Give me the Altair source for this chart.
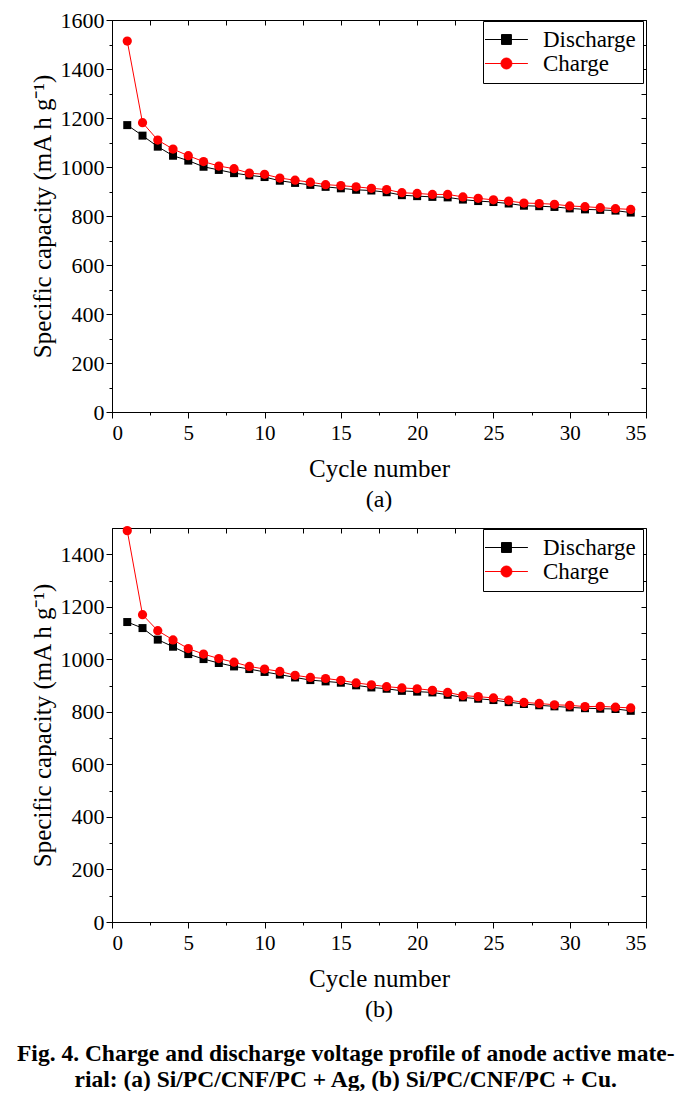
import altair as alt
import pandas as pd

cycles = list(range(1, 35))
series_names = ["Discharge", "Charge"]
series_colors = ["#000000", "#ff0000"]

a_discharge = [1171, 1128, 1083, 1046, 1026, 1001, 988, 975, 966, 959, 944, 935, 927, 919, 913, 907, 904,
               897, 885, 881, 878, 876, 867, 861, 857, 851, 842, 840, 837, 831, 827, 825, 822, 814]
a_charge = [1514, 1181, 1110, 1073, 1046, 1022, 1004, 993, 975, 970, 955, 946, 938, 928, 924, 919, 913,
            908, 895, 892, 888, 888, 878, 872, 866, 861, 853, 851, 848, 841, 838, 834, 830, 827]
b_discharge = [1142, 1119, 1075, 1048, 1020, 1001, 986, 973, 963, 952, 942, 931, 921, 916, 911, 901, 893,
               888, 880, 877, 874, 865, 855, 850, 845, 837, 830, 825, 821, 817, 814, 812, 811, 804]
b_charge = [1490, 1170, 1109, 1074, 1041, 1020, 1003, 989, 973, 963, 954, 939, 931, 927, 920, 910, 903,
            896, 891, 888, 882, 874, 862, 858, 853, 845, 836, 832, 827, 825, 820, 821, 818, 815]

x_tick_values = [0, 2.5, 5, 7.5, 10, 12.5, 15, 17.5, 20, 22.5, 25, 27.5, 30, 32.5, 35]
a_y_tick_values = [0, 100, 200, 300, 400, 500, 600, 700, 800, 900, 1000, 1100, 1200, 1300, 1400, 1500, 1600]
b_y_tick_values = [0, 100, 200, 300, 400, 500, 600, 700, 800, 900, 1000, 1100, 1200, 1300, 1400]

x_title = "Cycle number"
y_title = "Specific capacity (mA h g\u207b\u00b9)"
caption = ["Fig. 4. Charge and discharge voltage profile of anode active mate-",
           "rial: (a) Si/PC/CNF/PC + Ag, (b) Si/PC/CNF/PC + Cu."]

FONT = "Liberation Serif"
legend_paths = [
    "M-1.5,0H2.4M0,-0.45H0.9V0.45H0Z",
    "M-1.5,0H2.4M-0.05,0A0.5,0.5,0,1,0,0.95,0A0.5,0.5,0,1,0,-0.05,0Z",
]
point_shapes = ["square", "circle"]
point_sizes = [64, 85]
PLOT_W = 534


def panel(dis, chg, ymax, yticks, label, h):
    df = pd.DataFrame({
        "cycle": cycles + cycles,
        "capacity": dis + chg,
        "series": [series_names[0]] * len(cycles) + [series_names[1]] * len(cycles),
    })
    xs = alt.Scale(domain=[0, 35], nice=False, zero=False)
    ys = alt.Scale(domain=[0, ymax], nice=False, zero=False)
    x_main = alt.X("cycle:Q", scale=xs, title=x_title, axis=alt.Axis(
        values=x_tick_values, grid=False, labelOverlap=False, format="d",
        labelExpr="datum.value % 5 === 0 ? datum.label : ''",
        tickSize={"condition": {"test": "datum.value % 5 === 0", "value": 6}, "value": 3},
        labelPadding=4, titlePadding=13, labelFontSize=21, titleFontSize=25,
    ))
    y_main = alt.Y("capacity:Q", scale=ys, title=y_title, axis=alt.Axis(
        values=yticks, grid=False, labelOverlap=False, format="d",
        labelExpr="datum.value % 200 === 0 ? datum.label : ''",
        tickSize={"condition": {"test": "datum.value % 200 === 0", "value": 6}, "value": 3},
        labelPadding=2, titlePadding=5, labelFontSize=22, titleFontSize=25,
    ))
    base = alt.Chart(df).encode(x=x_main, y=y_main)
    layers = []
    for name, color, shp, sz in zip(series_names, series_colors, point_shapes, point_sizes):
        sub = base.transform_filter(alt.datum.series == name)
        layers.append(sub.mark_line(color=color, strokeWidth=1))
        layers.append(sub.mark_point(shape=shp, filled=True, size=sz, color=color, opacity=1))
    data_layer = alt.layer(*layers)

    leg = alt.Legend(title=None, orient="none", legendX=PLOT_W - 163, legendY=1, padding=7,
                     strokeColor="black", fillColor="white",
                     labelFont=FONT, labelFontSize=23, labelColor="black",
                     symbolSize=484, symbolStrokeWidth=1, labelOffset=30, rowPadding=0)
    x_mirror = alt.X("cycle:Q", scale=xs, title=None, axis=alt.Axis(
        orient="top", values=x_tick_values, grid=False, labels=False, domain=False,
        offset=-5, tickSize=5, title=None))
    y_mirror = alt.Y("capacity:Q", scale=ys, title=None, axis=alt.Axis(
        orient="right", values=yticks, grid=False, labels=False, domain=False,
        offset=-5, tickSize=5, title=None))
    legend_layer = alt.Chart(df).transform_filter("false").mark_point(
        filled=False, opacity=1, strokeWidth=1).encode(
        x=x_mirror, y=y_mirror,
        color=alt.Color("series:N", scale=alt.Scale(domain=series_names, range=series_colors), legend=leg),
        fill=alt.Fill("series:N", scale=alt.Scale(domain=series_names, range=series_colors), legend=leg),
        shape=alt.Shape("series:N", scale=alt.Scale(domain=series_names, range=legend_paths), legend=leg),
    )
    return alt.layer(data_layer, legend_layer).resolve_axis(x="independent", y="independent").properties(
        width=PLOT_W, height=h,
        title=alt.TitleParams(label, orient="bottom", anchor="middle", frame="group",
                              font=FONT, fontSize=24, fontWeight="normal", offset=7, color="black"),
    )


top = panel(a_discharge, a_charge, 1600, a_y_tick_values, "(a)", 392)
bottom = panel(b_discharge, b_charge, 1500, b_y_tick_values, "(b)", 394)

chart = alt.vconcat(top, bottom, spacing=12).resolve_scale(
    color="independent", fill="independent", shape="independent", x="independent", y="independent"
).properties(
    title=alt.TitleParams(caption, orient="bottom", anchor="middle", font=FONT, fontSize=23.5,
                          fontWeight="bold", offset=19, lineHeight=26, color="black", dx=7.5),
    padding={"left": 9, "top": 0, "right": 5, "bottom": 0},
).configure_view(stroke="black", strokeWidth=1).configure_axis(
    domainColor="black", tickColor="black", labelColor="black", titleColor="black",
    labelFont=FONT, titleFont=FONT, titleFontWeight="normal", domainWidth=1, tickWidth=1,
)

chart.save("out.html", embed_options={"renderer": "svg", "actions": False})
